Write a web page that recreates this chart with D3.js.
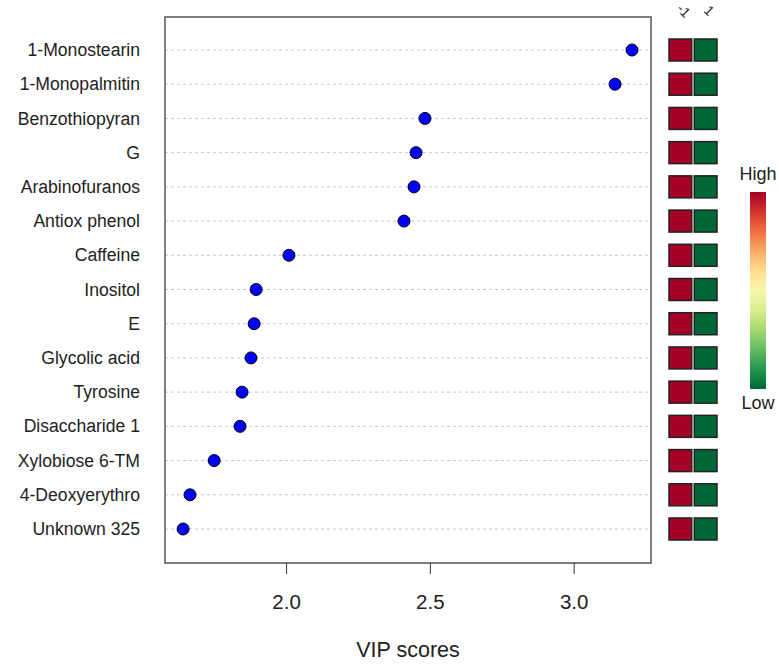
<!DOCTYPE html>
<html>
<head>
<style>
body { margin: 0; background: #fff; }
text { font-family: "Liberation Sans", Arial, sans-serif; fill: #222; }
.grid line { stroke: #c8c8c8; stroke-dasharray: 3,3; }
</style>
<script src="https://cdn.jsdelivr.net/npm/d3@7/dist/d3.min.js"></script>
</head>
<body>
<svg width="779" height="666"></svg>
<script>

var features = ["1-Monostearin", "1-Monopalmitin", "Benzothiopyran", "G", "Arabinofuranos",
  "Antiox phenol", "Caffeine", "Inositol", "E", "Glycolic acid", "Tyrosine",
  "Disaccharide 1", "Xylobiose 6-TM", "4-Deoxyerythro", "Unknown 325"];
var vip = [3.203, 3.144, 2.483, 2.452, 2.445, 2.410, 2.010, 1.896, 1.889, 1.878,
  1.847, 1.840, 1.750, 1.666, 1.642];
var groups = ["-1", "1"];
// relative level of each feature per group (1 = high, 0 = low)
var levelA = [1,1,1,1,1,1,1,1,1,1,1,1,1,1,1];
var levelB = [0,0,0,0,0,0,0,0,0,0,0,0,0,0,0];
var xTicks = [2.0, 2.5, 3.0];

var font = "'Liberation Sans', Arial, sans-serif";

var svg = d3.select("svg"),
    margin = {top: 17, left: 165, right: 128, bottom: 103},
    width = 779 - margin.left - margin.right,
    height = 666 - margin.top - margin.bottom;

var x = d3.scaleLinear().domain([1.579, 3.269]).range([0, width]);
var y = d3.scalePoint().domain(features).range([33, height - 34]);

var g = svg.append("g")
    .attr("transform", "translate(" + margin.left + "," + margin.top + ")");

// dotted row guides
g.append("g").attr("class", "grid")
  .selectAll("line")
  .data(features)
  .enter().append("line")
    .attr("x1", 0).attr("x2", width)
    .attr("y1", function(d) { return y(d); })
    .attr("y2", function(d) { return y(d); });

// frame
g.append("rect")
    .attr("width", width).attr("height", height)
    .attr("fill", "none").attr("stroke", "#555").attr("stroke-width", 1.5);

// x axis
var xa = g.append("g")
    .attr("transform", "translate(0," + height + ")")
    .call(d3.axisBottom(x).tickValues(xTicks).tickFormat(d3.format(".1f")).tickSize(11).tickPadding(20));
xa.select(".domain").remove();
xa.selectAll("line").attr("stroke", "#333");
xa.selectAll("text").style("font-size", "20.5px").style("font-family", font).attr("fill", "#222");

// y labels
var ya = g.append("g")
    .call(d3.axisLeft(y).tickSize(0).tickPadding(25));
ya.select(".domain").remove();
ya.selectAll("text").style("font-size", "17.6px").style("font-family", font).attr("fill", "#222");

// points
g.selectAll(".dot")
  .data(features)
  .enter().append("circle")
    .attr("cx", function(d, i) { return x(vip[i]); })
    .attr("cy", function(d) { return y(d); })
    .attr("r", 6)
    .attr("fill", "#0000ff")
    .attr("stroke", "#000").attr("stroke-width", 1);

// axis title
svg.append("text")
    .attr("x", 408)
    .attr("y", 657)
    .attr("text-anchor", "middle")
    .style("font-size", "21.5px")
    .text("VIP scores");

// heat squares
var color = d3.scaleSequential(function(t) { return d3.interpolateRdYlGn(1 - t); }).domain([0, 1]);
var col = d3.scaleBand().domain(groups).range([669, 717]).paddingInner(0.1);
var levels = [levelA, levelB];

groups.forEach(function(gr, j) {
  svg.selectAll(".sq" + j)
    .data(features)
    .enter().append("rect")
      .attr("x", col(gr))
      .attr("y", function(d) { return margin.top + y(d) - 11; })
      .attr("width", col.bandwidth())
      .attr("height", 22)
      .attr("fill", function(d, i) { return color(levels[j][i]); })
      .attr("stroke", "#222").attr("stroke-width", 1.5);

  svg.append("text")
      .attr("transform", "translate(" + (col(gr) + col.bandwidth() / 2) + ",14) rotate(45)")
      .attr("text-anchor", "middle")
      .style("font-size", "14px")
      .text(gr);
});

// colour key
var defs = svg.append("defs");
var grad = defs.append("linearGradient").attr("id", "key")
    .attr("x1", 0).attr("y1", 1).attr("x2", 0).attr("y2", 0);
d3.range(0, 1.01, 0.1).forEach(function(t) {
  grad.append("stop").attr("offset", t).attr("stop-color", color(t));
});
svg.append("rect")
    .attr("x", 750).attr("y", 192).attr("width", 16).attr("height", 197)
    .attr("fill", "url(#key)");
svg.append("text").attr("x", 758).attr("y", 180).attr("text-anchor", "middle")
    .style("font-size", "18px").text("High");
svg.append("text").attr("x", 758).attr("y", 409).attr("text-anchor", "middle")
    .style("font-size", "18px").text("Low");

</script>
</body>
</html>
